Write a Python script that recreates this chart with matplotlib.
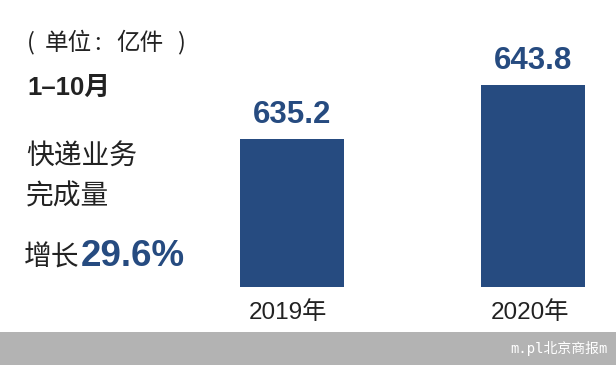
import matplotlib
matplotlib.use('Agg')
import matplotlib.pyplot as plt
from matplotlib.patches import Rectangle

years = ['2019年', '2020年']
volumes = [635.2, 643.8]
growth = '29.6%'
unit_parts = ['(', '单位', ':', '亿件', ')']
period_text = '1–10月'
title_lines = ['快递业务', '完成量']

W, H = 616, 365
blue = '#264b80'
dark = '#222222'
cjk = ['Noto Sans CJK SC', 'DejaVu Sans']
latin = ['Liberation Sans', 'Noto Sans CJK SC']

fig = plt.figure(figsize=(W / 100, H / 100), dpi=100)
fig.patch.set_facecolor('white')


def fx(px):
    return px / W


def fy(py):
    return 1 - py / H


# axes spans full width, baseline at y=287px, top at 20px
ax = fig.add_axes([0, fy(287), 1, fy(20) - fy(287)])
ax.set_facecolor('none')
ax.set_xlim(-1.209, 1.342)
ax.set_ylim(611.6, 654.2)
x = list(range(len(years)))
ax.bar(x, [v - 611.6 for v in volumes], bottom=611.6, width=0.43, color=blue)
for xi, v in zip(x, volumes):
    ax.annotate(f'{v:.1f}', (xi, v), xytext=(0, 11.5), textcoords='offset points',
                ha='center', va='baseline', fontsize=22.5, fontweight='bold',
                color=blue, family=latin, annotation_clip=False)
ax.set_xticks([xi - 0.015 for xi in x])
ax.set_xticklabels(years, family=latin, fontsize=17.5, color=dark)
ax.tick_params(axis='x', length=0, pad=10)
ax.set_yticks([])
for s in ax.spines.values():
    s.set_visible(False)

# left side texts
unit_x = [27, 45, 94, 116, 177]
for px, part in zip(unit_x, unit_parts):
    fig.text(fx(px), fy(43), part, family=cjk, fontsize=17, color=dark,
             ha='left', va='center')
fig.text(fx(27), fy(88), period_text, family=latin, fontsize=18.5,
         fontweight='bold', color=dark, ha='left', va='center')
fig.text(fx(26), fy(157), title_lines[0], family=cjk, fontsize=20, color=dark,
         ha='left', va='center')
fig.text(fx(26), fy(197), title_lines[1], family=cjk, fontsize=20, color=dark,
         ha='left', va='center')
fig.text(fx(24), fy(258), '增长', family=cjk, fontsize=20, color=dark,
         ha='left', va='center')
fig.text(fx(81), fy(256), growth, family=latin, fontsize=26.5, fontweight='bold',
         color=blue, ha='left', va='center')

# grey footer band with watermark
fig.patches.append(Rectangle((0, 0), 1, 33 / H, transform=fig.transFigure,
                             facecolor='#b3b3b3', edgecolor='none', zorder=0))
fig.text(fx(510), fy(349), 'm.pl北京商报m', family=['DejaVu Sans Mono', 'Noto Sans CJK SC'],
         fontsize=10, color='white', ha='left', va='center')

fig.savefig('out.png', dpi=100)
